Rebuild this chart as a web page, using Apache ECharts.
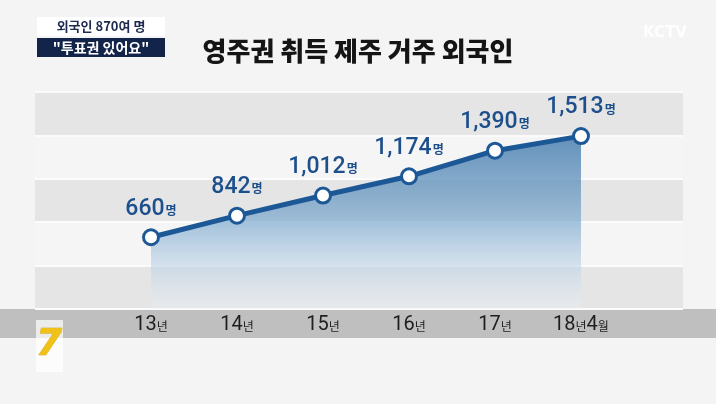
<!DOCTYPE html>
<html>
<head>
<meta charset="utf-8">
<script src="https://cdn.jsdelivr.net/npm/echarts@6/dist/echarts.min.js"></script>
<style>
html,body{margin:0;padding:0;background:#f4f4f4;}
#chart{width:716px;height:404px;}
</style>
</head>
<body>
<div id="chart"></div>
<script>
// ---- data ----
var categories = ['13년', '14년', '15년', '16년', '17년', '18년 4월'];
var values = [660, 842, 1012, 1174, 1390, 1513];
var unit = '명';
var titleText = '영주권 취득 제주 거주 외국인';
var headerLine1 = '외국인 870여 명';
var headerLine2 = '"투표권 있어요"';
var bandSteps = [0, 1, 2, 3, 4, 5];

var NUM_FONT = 'Roboto, sans-serif';
var KR_FONT = '"Noto Sans CJK KR", sans-serif';

function richify(str) {
  var out = '', buf = '', isNum = null;
  for (var i = 0; i < str.length; i++) {
    var c = str[i];
    if (c === ' ') continue;
    var n = /[0-9,]/.test(c);
    if (isNum !== null && n !== isNum) {
      out += '{' + (isNum ? 'n' : 'u') + '|' + buf + '}';
      buf = '';
    }
    buf += c; isNum = n;
  }
  if (buf) out += '{' + (isNum ? 'n' : 'u') + '|' + buf + '}';
  return out;
}

var chart = echarts.init(document.getElementById('chart'));
var blue = '#1d5896';

var option = {
  backgroundColor: '#f4f4f4',
  animation: false,
  title: {
    text: titleText,
    left: 'center',
    top: 33,
    textStyle: { fontFamily: KR_FONT, fontSize: 26, fontWeight: 900, color: '#151515' }
  },
  grid: [
    { left: 35, right: 33, top: 92, bottom: 95 },
    { left: 108, right: 92, top: 92, bottom: 95 }
  ],
  xAxis: [
    { gridIndex: 0, type: 'value', min: 0, max: 1, show: false },
    {
      gridIndex: 1, type: 'category', data: categories, boundaryGap: true,
      axisLine: { show: false }, axisTick: { show: false }, splitLine: { show: false },
      axisLabel: {
        interval: 0,
        margin: 6,
        formatter: function (v) { return richify(v); },
        rich: {
          n: { fontFamily: NUM_FONT, fontSize: 20, color: '#1e1e1e' },
          u: { fontFamily: KR_FONT, fontSize: 12, color: '#1e1e1e', padding: [3, 0, 0, 0] }
        }
      }
    }
  ],
  yAxis: [
    {
      gridIndex: 0, type: 'value', min: 0, max: 5, interval: 1,
      axisLine: { show: false }, axisTick: { show: false }, axisLabel: { show: false },
      splitLine: { show: true, lineStyle: { color: '#fbfbfb', width: 2 } },
      splitArea: { show: true, areaStyle: { color: ['#e5e5e5', '#f5f5f5'] } }
    },
    {
      gridIndex: 1, type: 'value', min: 55, max: 1885, show: false,
      splitLine: { show: false }
    }
  ],
  graphic: [
    { type: 'rect', silent: true, z: -1, shape: { x: 0, y: 309, width: 716, height: 29 }, style: { fill: '#bfbfbf' } },
    { type: 'rect', shape: { x: 37, y: 17, width: 128, height: 19 }, style: { fill: '#ffffff' } },
    { type: 'text', x: 101, y: 26.5, style: { text: headerLine1, fill: '#1b2a4e', font: 'bold 13px "Noto Sans CJK KR"', align: 'center', verticalAlign: 'middle' } },
    { type: 'rect', shape: { x: 37, y: 38, width: 128, height: 19 }, style: { fill: '#13244a' } },
    { type: 'text', x: 101, y: 47.5, style: { text: headerLine2, fill: '#ffffff', font: 'bold 14px "Noto Sans CJK KR"', align: 'center', verticalAlign: 'middle' } },
    { type: 'text', x: 665, y: 33, style: { text: 'KCTV', fill: 'rgba(255,255,255,0.9)', font: 'bold 15px "DejaVu Sans"', align: 'center', verticalAlign: 'middle' } },
    { type: 'rect', shape: { x: 36, y: 320, width: 27, height: 52 }, style: { fill: 'rgba(255,255,255,0.7)' } },
    { type: 'text', x: 49, y: 345, style: { text: '7', fill: '#f0c219', stroke: '#c9990a', lineWidth: 0.5, font: 'italic bold 38px "DejaVu Sans"', align: 'center', verticalAlign: 'middle' } }
  ],
  series: [
    {
      type: 'line',
      xAxisIndex: 0, yAxisIndex: 0,
      data: bandSteps.map(function (b) { return [0, b]; }),
      showSymbol: false, lineStyle: { width: 0 }, silent: true
    },
    {
      type: 'line',
      xAxisIndex: 1, yAxisIndex: 1,
      data: values,
      symbol: 'circle',
      symbolSize: 15,
      itemStyle: { color: '#ffffff', borderColor: blue, borderWidth: 3 },
      lineStyle: { color: blue, width: 5 },
      areaStyle: {
        origin: 'start',
        color: {
          type: 'linear', x: 0, y: 0, x2: 0, y2: 1,
          colorStops: [
            { offset: 0, color: '#2566a0' },
            { offset: 0.5, color: '#80abd0' },
            { offset: 1, color: 'rgba(235,242,248,0.5)' }
          ]
        }
      },
      label: {
        show: true,
        position: 'top',
        distance: 8,
        formatter: function (p) {
          return '{n|' + p.value.toLocaleString('en-US') + '}{u|' + unit + '}';
        },
        rich: {
          n: { fontFamily: NUM_FONT, fontSize: 23, fontWeight: 500, color: '#1d4f8c' },
          u: { fontFamily: KR_FONT, fontSize: 12, fontWeight: 'bold', color: '#1d4f8c', padding: [3, 0, 0, 1] }
        }
      },
      z: 5
    }
  ]
};
chart.setOption(option);
</script>
</body>
</html>
